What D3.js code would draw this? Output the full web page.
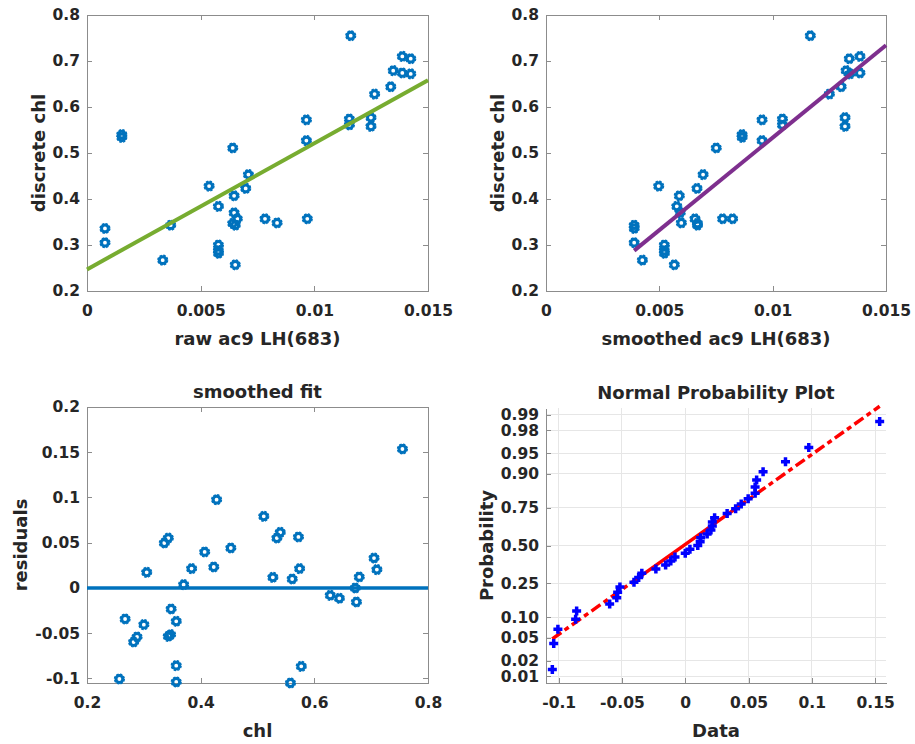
<!DOCTYPE html>
<html lang="en">
<head>
<meta charset="UTF-8">
<title>chl vs ac9 LH(683)</title>
<script src="https://d3js.org/d3.v7.min.js"></script>
<style>
	body { margin: 0; background: #fff; }
	text { font-family: "DejaVu Sans", sans-serif; font-weight: bold; fill: #262626; }
	.axis path, .axis line { stroke: #8c8c8c; shape-rendering: crispEdges; }
	.axis text { font-size: 15.5px; }
	.grid line { stroke: #e6e6e6; shape-rendering: crispEdges; }
	.lbl { font-size: 18px; }
</style>
</head>
<body>
<div id="myDiv"></div>
<script>
// one entry per sample, sorted by chl
let chl = [0.257, 0.267, 0.282, 0.288, 0.300, 0.305, 0.336, 0.343, 0.343, 0.347, 0.348, 0.357, 0.357, 0.357,
	0.370, 0.384, 0.407, 0.423, 0.428, 0.453, 0.511, 0.527, 0.534, 0.540, 0.558, 0.561, 0.572, 0.574, 0.577,
	0.628, 0.644, 0.672, 0.674, 0.679, 0.705, 0.710, 0.755];
let rawLH = [0.00652, 0.00333, 0.00578, 0.00578, 0.00578, 0.00079, 0.00079, 0.00368, 0.00652, 0.00641, 0.00836,
	0.00661, 0.00783, 0.00969, 0.00647, 0.00578, 0.00647, 0.00698, 0.00537, 0.0071, 0.00641, 0.00965, 0.00153,
	0.00153, 0.01249, 0.01154, 0.00965, 0.01154, 0.01249, 0.01265, 0.01336, 0.01424, 0.01387, 0.01347, 0.01424,
	0.01387, 0.0116];
let smoothLH = [0.00566, 0.00425, 0.00522, 0.00522, 0.00522, 0.00389, 0.00389, 0.00389, 0.00668, 0.00668, 0.00597,
	0.00657, 0.00779, 0.00823, 0.00592, 0.00577, 0.00588, 0.00666, 0.00497, 0.00693, 0.00751, 0.00953, 0.00865,
	0.00865, 0.01319, 0.01043, 0.00953, 0.01043, 0.01319, 0.0125, 0.01302, 0.01341, 0.01385, 0.01324, 0.01338,
	0.01385, 0.01166];
let residuals = [-0.1006, -0.0343, -0.0597, -0.0541, -0.0405, 0.0173, 0.0497, 0.0552, -0.0534, -0.0516, -0.0232,
	-0.0368, -0.0858, -0.1039, 0.0037, 0.0214, 0.0398, 0.0232, 0.0976, 0.0442, 0.0792, 0.0118, 0.0552, 0.0615,
	-0.105, 0.0099, 0.0564, 0.0214, -0.0866, -0.0081, -0.0114, 0.0, -0.0155, 0.0122, 0.0331, 0.0203, 0.1536];

// fitted lines: [intercept, slope] and their x span
let rawFit = [0.247, 27.4];
let rawFitSpan = [0, 0.015];
let smoothFit = [0.1314, 40.2];
let smoothFitSpan = [0.00389, 0.015];

// axis limits and ticks
let lhLim = [0, 0.015];
let lhTicks = [0, 0.005, 0.01, 0.015];
let chlLim = [0.2, 0.8];
let chlTicks = [0.2, 0.3, 0.4, 0.5, 0.6, 0.7, 0.8];
let chlTicks3 = [0.2, 0.4, 0.6, 0.8];
let resLim = [-0.105, 0.2];
let resTicks = [-0.1, -0.05, 0, 0.05, 0.1, 0.15, 0.2];
let npLim = [-0.11, 0.1586];
let npTicks = [-0.1, -0.05, 0, 0.05, 0.1, 0.15];
let probTicks = [0.01, 0.02, 0.05, 0.10, 0.25, 0.50, 0.75, 0.90, 0.95, 0.98, 0.99];
let probLabels = ["0.01", "0.02", "0.05", "0.10", "0.25", "0.50", "0.75", "0.90", "0.95", "0.98", "0.99"];
let zLim = [-2.45, 2.45];

// inverse normal cdf (Acklam)
function norminv(p) {
	const a = [-3.969683028665376e+01, 2.209460984245205e+02, -2.759285104469687e+02, 1.383577518672690e+02, -3.066479806614716e+01, 2.506628277459239e+00];
	const b = [-5.447609879822406e+01, 1.615858368580409e+02, -1.556989798598866e+02, 6.680131188771972e+01, -1.328068155288572e+01];
	const c = [-7.784894002430293e-03, -3.223964580411365e-01, -2.400758277161838e+00, -2.549732539343734e+00, 4.374664141464968e+00, 2.938163982698783e+00];
	const d = [7.784695709041462e-03, 3.224671290700398e-01, 2.445134137142996e+00, 3.754408661907416e+00];
	let q, r;
	if (p < 0.02425) {
		q = Math.sqrt(-2 * Math.log(p));
		return (((((c[0]*q+c[1])*q+c[2])*q+c[3])*q+c[4])*q+c[5]) / ((((d[0]*q+d[1])*q+d[2])*q+d[3])*q+1);
	}
	if (p > 1 - 0.02425) {
		q = Math.sqrt(-2 * Math.log(1 - p));
		return -(((((c[0]*q+c[1])*q+c[2])*q+c[3])*q+c[4])*q+c[5]) / ((((d[0]*q+d[1])*q+d[2])*q+d[3])*q+1);
	}
	q = p - 0.5; r = q * q;
	return (((((a[0]*r+a[1])*r+a[2])*r+a[3])*r+a[4])*r+a[5])*q / (((((b[0]*r+b[1])*r+b[2])*r+b[3])*r+b[4])*r+1);
}

let svg = d3.select("#myDiv").append("svg").attr("width", 915).attr("height", 744);

let boxes = {
	p1: {x0: 87, x1: 428, y0: 15, y1: 291},
	p2: {x0: 546, x1: 886, y0: 15, y1: 291},
	p3: {x0: 87, x1: 428, y0: 407, y1: 683},
	p4: {x0: 546, x1: 886, y0: 408, y1: 683}
};

let fmt = d => String(d);

function frame(b, x, y, xTicks, yTicks, opt) {
	let g = svg.append("g");
	if (opt.grid) {
		let gr = g.append("g").attr("class", "grid");
		gr.selectAll(".gx").data(xTicks).enter().append("line")
			.attr("x1", d => x(d)).attr("x2", d => x(d)).attr("y1", b.y0).attr("y2", b.y1);
		gr.selectAll(".gy").data(yTicks).enter().append("line")
			.attr("x1", b.x0).attr("x2", b.x1).attr("y1", d => y(d)).attr("y2", d => y(d));
	}
	g.append("g").attr("class", "axis").attr("transform", `translate(0,${b.y1})`)
		.call(d3.axisBottom(x).tickValues(xTicks).tickSizeInner(-5).tickSizeOuter(0).tickPadding(14).tickFormat(opt.xFmt || fmt));
	let yl = g.append("g").attr("class", "axis").attr("transform", `translate(${b.x0},0)`)
		.call(d3.axisLeft(y).tickValues(yTicks).tickSizeInner(-5).tickSizeOuter(0).tickPadding(7).tickFormat(opt.yFmt || fmt));
	if (opt.box) {
		g.append("g").attr("class", "axis").attr("transform", `translate(0,${b.y0})`)
			.call(d3.axisTop(x).tickValues(xTicks).tickSizeInner(-5).tickSizeOuter(0).tickFormat(""));
		g.append("g").attr("class", "axis").attr("transform", `translate(${b.x1},0)`)
			.call(d3.axisRight(y).tickValues(yTicks).tickSizeInner(-5).tickSizeOuter(0).tickFormat(""));
	}
	// labels
	let minLeft = d3.min(yl.selectAll("text").nodes(), n => n.getBBox().x) + b.x0;
	let cy = (b.y0 + b.y1) / 2;
	svg.append("text").attr("class", "lbl")
		.attr("transform", `translate(${minLeft - 8},${cy}) rotate(-90)`)
		.attr("text-anchor", "middle").text(opt.yLabel);
	svg.append("text").attr("class", "lbl")
		.attr("x", (b.x0 + b.x1) / 2).attr("y", b.y1 + 54)
		.attr("text-anchor", "middle").text(opt.xLabel);
	if (opt.title) {
		svg.append("text").attr("class", "lbl")
			.attr("x", (b.x0 + b.x1) / 2).attr("y", b.y0 - 9)
			.attr("text-anchor", "middle").text(opt.title);
	}
}

// gear-like "o" markers
function gears(pts) {
	let g = svg.append("g");
	let m = g.selectAll("g").data(pts).enter().append("g")
		.attr("transform", d => `translate(${d[0]},${d[1]})`);
	m.append("circle").attr("r", 4.9).attr("fill", "none").attr("stroke", "#0072BD")
		.attr("stroke-width", 1.4).attr("stroke-dasharray", "2.4,1.45");
	m.append("circle").attr("r", 3.4).attr("fill", "none").attr("stroke", "#0072BD").attr("stroke-width", 3);
}

//---------------- panel 1: raw ac9
let b = boxes.p1;
let x1 = d3.scaleLinear().domain(lhLim).range([b.x0, b.x1]);
let y1 = d3.scaleLinear().domain(chlLim).range([b.y1, b.y0]);
frame(b, x1, y1, lhTicks, chlTicks, {box: true, xLabel: "raw ac9 LH(683)", yLabel: "discrete chl"});
gears(rawLH.map((v, i) => [x1(v), y1(chl[i])]));
svg.append("line")
	.attr("x1", x1(rawFitSpan[0])).attr("y1", y1(rawFit[0] + rawFit[1] * rawFitSpan[0]))
	.attr("x2", x1(rawFitSpan[1])).attr("y2", y1(rawFit[0] + rawFit[1] * rawFitSpan[1]))
	.attr("stroke", "#77AC30").attr("stroke-width", 4);

//---------------- panel 2: smoothed ac9
b = boxes.p2;
let x2 = d3.scaleLinear().domain(lhLim).range([b.x0, b.x1]);
let y2 = d3.scaleLinear().domain(chlLim).range([b.y1, b.y0]);
frame(b, x2, y2, lhTicks, chlTicks, {box: true, xLabel: "smoothed ac9 LH(683)", yLabel: "discrete chl"});
gears(smoothLH.map((v, i) => [x2(v), y2(chl[i])]));
svg.append("line")
	.attr("x1", x2(smoothFitSpan[0])).attr("y1", y2(smoothFit[0] + smoothFit[1] * smoothFitSpan[0]))
	.attr("x2", x2(smoothFitSpan[1])).attr("y2", y2(smoothFit[0] + smoothFit[1] * smoothFitSpan[1]))
	.attr("stroke", "#7E2F8E").attr("stroke-width", 4);

//---------------- panel 3: residuals
b = boxes.p3;
let x3 = d3.scaleLinear().domain(chlLim).range([b.x0, b.x1]);
let y3 = d3.scaleLinear().domain(resLim).range([b.y1, b.y0]);
frame(b, x3, y3, chlTicks3, resTicks, {box: true, xLabel: "chl", yLabel: "residuals", title: "smoothed fit"});
gears(residuals.map((v, i) => [x3(chl[i]), y3(v)]));
svg.append("line")
	.attr("x1", x3(chlLim[0])).attr("x2", x3(chlLim[1]))
	.attr("y1", y3(0)).attr("y2", y3(0))
	.attr("stroke", "#0072BD").attr("stroke-width", 3.5);

//---------------- panel 4: normal probability plot
b = boxes.p4;
let x4 = d3.scaleLinear().domain(npLim).range([b.x0, b.x1]);
let y4 = d3.scaleLinear().domain(zLim).range([b.y1, b.y0]);
let zTicks = probTicks.map(norminv);
frame(b, x4, y4, npTicks, zTicks, {grid: true, xLabel: "Data", yLabel: "Probability", title: "Normal Probability Plot",
	yFmt: (d, i) => probLabels[i]});

let sorted = residuals.slice().sort(d3.ascending);
let n = sorted.length;
function prctile(p) {
	let pos = n * p + 0.5;
	let lo = Math.floor(pos), f = pos - lo;
	return sorted[lo - 1] + f * (sorted[lo] - sorted[lo - 1]);
}
let q1 = prctile(0.25), q3 = prctile(0.75);
let mu = (q1 + q3) / 2, sigma = (q3 - q1) / (2 * norminv(0.75));
let zOf = v => (v - mu) / sigma;
let refLine = d3.line().x(d => x4(d)).y(d => y4(zOf(d)));
svg.append("path").attr("d", refLine([sorted[0], q1])).attr("fill", "none")
	.attr("stroke", "#FF0000").attr("stroke-width", 3.5).attr("stroke-dasharray", "11,4,5,4");
svg.append("path").attr("d", refLine([q3, sorted[n - 1]])).attr("fill", "none")
	.attr("stroke", "#FF0000").attr("stroke-width", 3.5).attr("stroke-dasharray", "11,4,5,4");
svg.append("path").attr("d", refLine([q1, q3])).attr("fill", "none")
	.attr("stroke", "#FF0000").attr("stroke-width", 3.5);

svg.append("g").selectAll("path").data(sorted).enter().append("path")
	.attr("transform", (d, i) => `translate(${x4(d)},${y4(norminv((i + 0.5) / n))})`)
	.attr("d", "M-4.5,0H4.5M0,-4.5V4.5")
	.attr("stroke", "#0000FF").attr("stroke-width", 3.5).attr("fill", "none");
</script>
</body>
</html>
